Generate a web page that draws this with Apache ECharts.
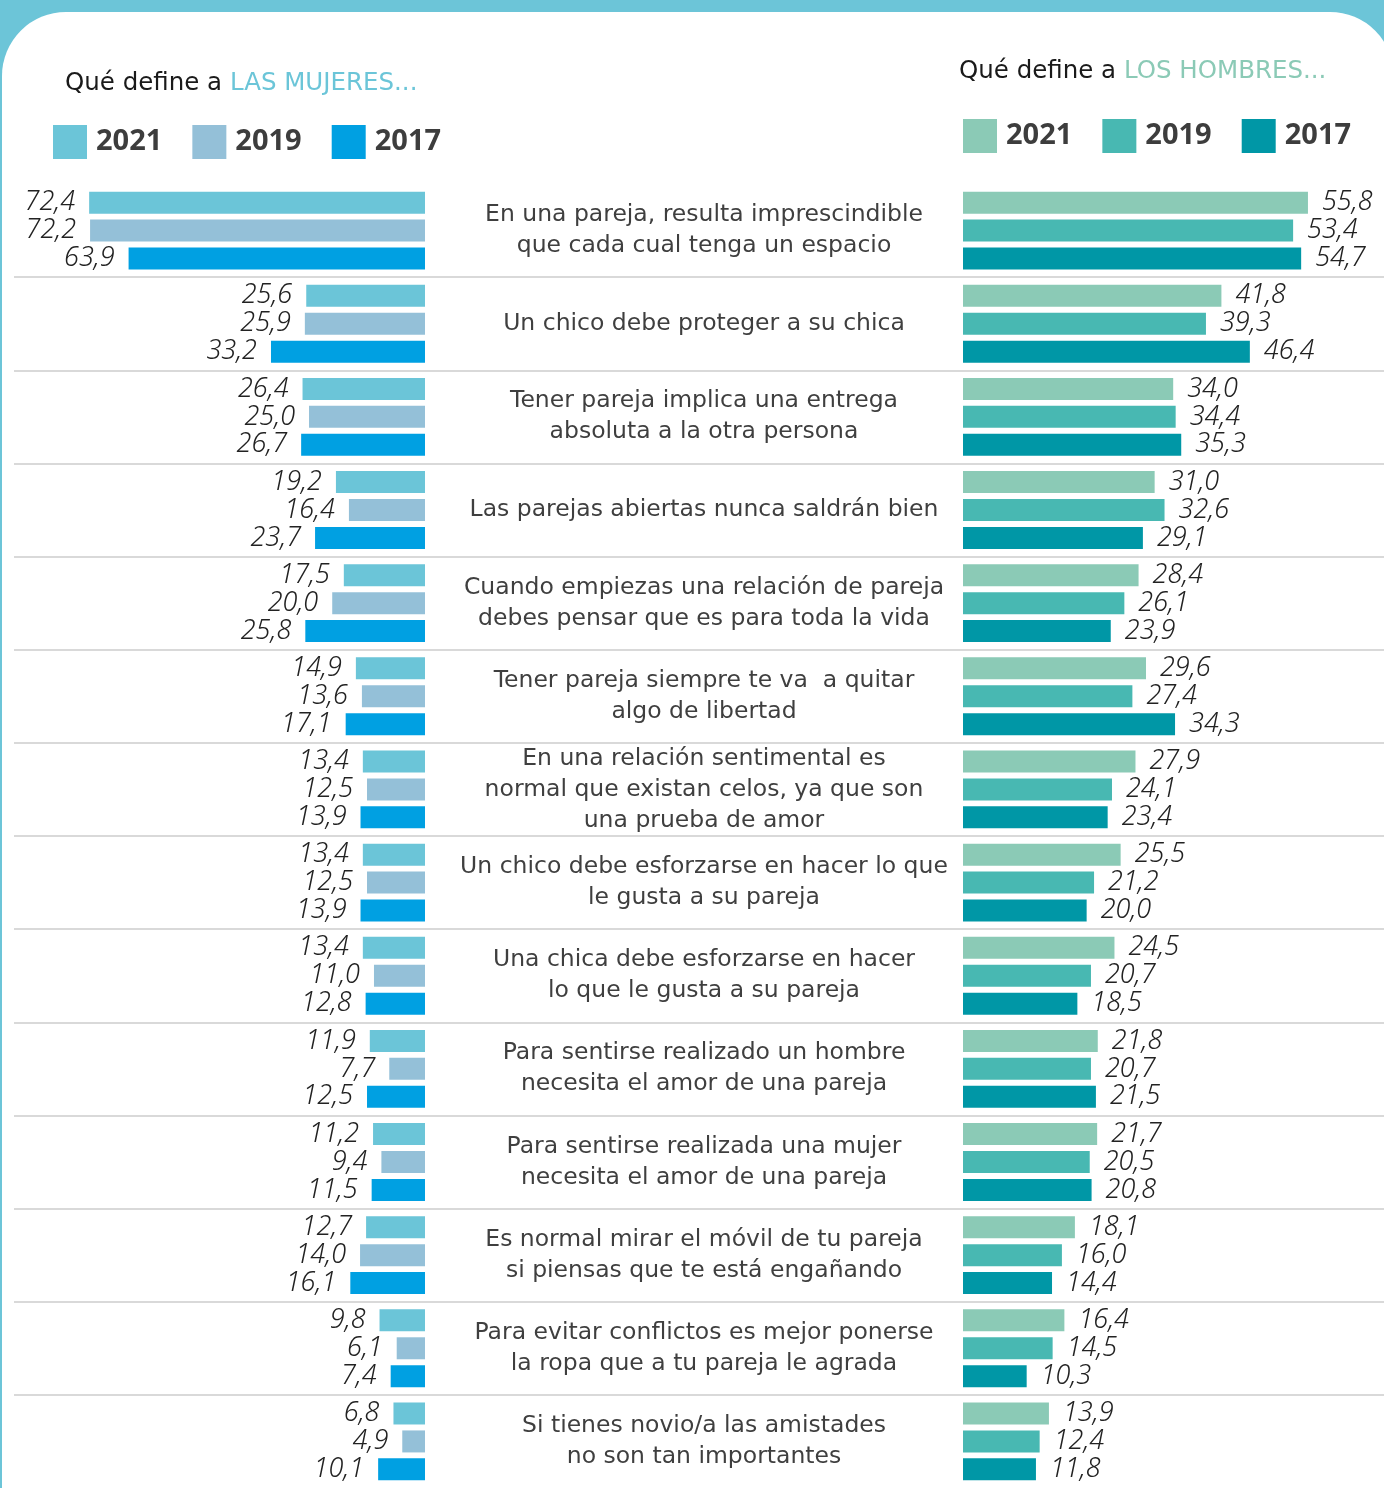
<!DOCTYPE html>
<html>
<head>
<meta charset="utf-8">
<script src="https://cdn.jsdelivr.net/npm/echarts@6/dist/echarts.min.js"></script>
<style>
  html, body { margin: 0; padding: 0; background: #6cc5d8; }
  #main { width: 1384px; height: 1488px; }
</style>
</head>
<body>
<div id="main"></div>
<script>
// categorías (frases)
const categories = [
  'En una pareja, resulta imprescindible\nque cada cual tenga un espacio',
  'Un chico debe proteger a su chica',
  'Tener pareja implica una entrega\nabsoluta a la otra persona',
  'Las parejas abiertas nunca saldrán bien',
  'Cuando empiezas una relación de pareja\ndebes pensar que es para toda la vida',
  'Tener pareja siempre te va  a quitar\nalgo de libertad',
  'En una relación sentimental es\nnormal que existan celos, ya que son\nuna prueba de amor',
  'Un chico debe esforzarse en hacer lo que\nle gusta a su pareja',
  'Una chica debe esforzarse en hacer\nlo que le gusta a su pareja',
  'Para sentirse realizado un hombre\nnecesita el amor de una pareja',
  'Para sentirse realizada una mujer\nnecesita el amor de una pareja',
  'Es normal mirar el móvil de tu pareja\nsi piensas que te está engañando',
  'Para evitar conflictos es mejor ponerse\nla ropa que a tu pareja le agrada',
  'Si tienes novio/a las amistades\nno son tan importantes'
]
const years = ['2021', '2019', '2017']

// mujeres
const mujeres2021 = [72.4, 25.6, 26.4, 19.2, 17.5, 14.9, 13.4, 13.4, 13.4, 11.9, 11.2, 12.7, 9.8, 6.8]
const mujeres2019 = [72.2, 25.9, 25.0, 16.4, 20.0, 13.6, 12.5, 12.5, 11.0, 7.7, 9.4, 14.0, 6.1, 4.9]
const mujeres2017 = [63.9, 33.2, 26.7, 23.7, 25.8, 17.1, 13.9, 13.9, 12.8, 12.5, 11.5, 16.1, 7.4, 10.1]

// hombres
const hombres2021 = [55.8, 41.8, 34.0, 31.0, 28.4, 29.6, 27.9, 25.5, 24.5, 21.8, 21.7, 18.1, 16.4, 13.9]
const hombres2019 = [53.4, 39.3, 34.4, 32.6, 26.1, 27.4, 24.1, 21.2, 20.7, 20.7, 20.5, 16.0, 14.5, 12.4]
const hombres2017 = [54.7, 46.4, 35.3, 29.1, 23.9, 34.3, 23.4, 20.0, 18.5, 21.5, 20.8, 14.4, 10.3, 11.8]

const coloresMujeres = ['#6bc5d8', '#94c0d8', '#00a0e2']
const coloresHombres = ['#8bcab6', '#48b8b2', '#0097a6']

const FONT = '"Noto Sans", sans-serif'
const FONT_TXT = '"DejaVu Sans", sans-serif'
const GRID_TOP = 184
const GRID_HEIGHT = 1310

const fmt = v => v.toFixed(1).replace('.', ',')

const myChart = echarts.init(document.getElementById('main'))

function barSerie(name, data, color, idx, side) {
  return {
    name: name,
    type: 'bar',
    xAxisIndex: idx,
    yAxisIndex: idx,
    data: data,
    barWidth: 22,
    barGap: '27%',
    itemStyle: { color: color },
    label: {
      show: true,
      position: side,
      distance: 14,
      formatter: p => fmt(p.value),
      fontFamily: FONT,
      fontStyle: 'italic',
      fontWeight: 300,
      fontSize: 27,
      color: '#222'
    }
  }
}

const series = [
  barSerie('2021', mujeres2021, coloresMujeres[0], 0, 'left'),
  barSerie('2019', mujeres2019, coloresMujeres[1], 0, 'left'),
  barSerie('2017', mujeres2017, coloresMujeres[2], 0, 'left'),
  barSerie('H2021', hombres2021, coloresHombres[0], 1, 'right'),
  barSerie('H2019', hombres2019, coloresHombres[1], 1, 'right'),
  barSerie('H2017', hombres2017, coloresHombres[2], 1, 'right')
]

const legendText = {
  fontFamily: FONT,
  fontSize: 29,
  fontWeight: 'bold',
  color: '#3d3d3d',
  padding: [0, 0, 0, 4]
}

const titleRich = color => ({
  a: { fontFamily: FONT_TXT, fontSize: 24.5, fontWeight: 'normal', color: '#1a1a1a' },
  b: { fontFamily: FONT_TXT, fontSize: 24.5, fontWeight: 'normal', color: color }
})

const option = {
  backgroundColor: '#6cc5d8',
  animation: false,
  graphic: [
    {
      type: 'rect',
      z: -10,
      shape: { x: 2, y: 12, width: 1392, height: 1500, r: [64, 64, 0, 0] },
      style: { fill: '#fff' }
    }
  ],
  title: [
    {
      text: '{a|Qué define a }{b|LAS MUJERES...}',
      left: 65,
      top: 71,
      padding: 0,
      textStyle: { fontWeight: 'normal', rich: titleRich(coloresMujeres[0]) }
    },
    {
      text: '{a|Qué define a }{b|LOS HOMBRES...}',
      left: 959,
      top: 59,
      padding: 0,
      textStyle: { fontWeight: 'normal', rich: titleRich(coloresHombres[0]) }
    }
  ],
  legend: [
    {
      data: years,
      left: 53,
      top: 125,
      padding: 0,
      icon: 'rect',
      itemWidth: 34,
      itemHeight: 34,
      itemGap: 30,
      selectedMode: false,
      textStyle: legendText
    },
    {
      data: years.map(y => 'H' + y),
      formatter: n => n.slice(1),
      left: 963,
      top: 119,
      padding: 0,
      icon: 'rect',
      itemWidth: 34,
      itemHeight: 34,
      itemGap: 30,
      selectedMode: false,
      textStyle: legendText
    }
  ],
  grid: [
    { left: 14, width: 411, top: GRID_TOP, height: GRID_HEIGHT },
    { left: 963, width: 421, top: GRID_TOP, height: GRID_HEIGHT },
    { left: 14, width: 1370, top: GRID_TOP, height: GRID_HEIGHT }
  ],
  xAxis: [
    { gridIndex: 0, type: 'value', inverse: true, min: 0, max: 88.6, show: false },
    { gridIndex: 1, type: 'value', min: 0, max: 68.1, show: false },
    { gridIndex: 2, type: 'value', min: 0, max: 1, show: false }
  ],
  yAxis: [
    { gridIndex: 0, type: 'category', inverse: true, data: categories, show: false },
    { gridIndex: 1, type: 'category', inverse: true, data: categories, show: false },
    {
      gridIndex: 2,
      type: 'category',
      inverse: true,
      data: categories,
      axisLine: { show: false },
      axisTick: { show: false },
      axisLabel: {
        inside: true,
        margin: 690,
        align: 'center',
        fontFamily: FONT_TXT,
        fontSize: 23.5,
        lineHeight: 31,
        color: '#3f3f3f'
      },
      splitLine: {
        show: true,
        showMinLine: false,
        showMaxLine: false,
        lineStyle: { color: '#d9d9d9', width: 2 }
      }
    }
  ],
  series: series
}

myChart.setOption(option)
</script>
</body>
</html>
